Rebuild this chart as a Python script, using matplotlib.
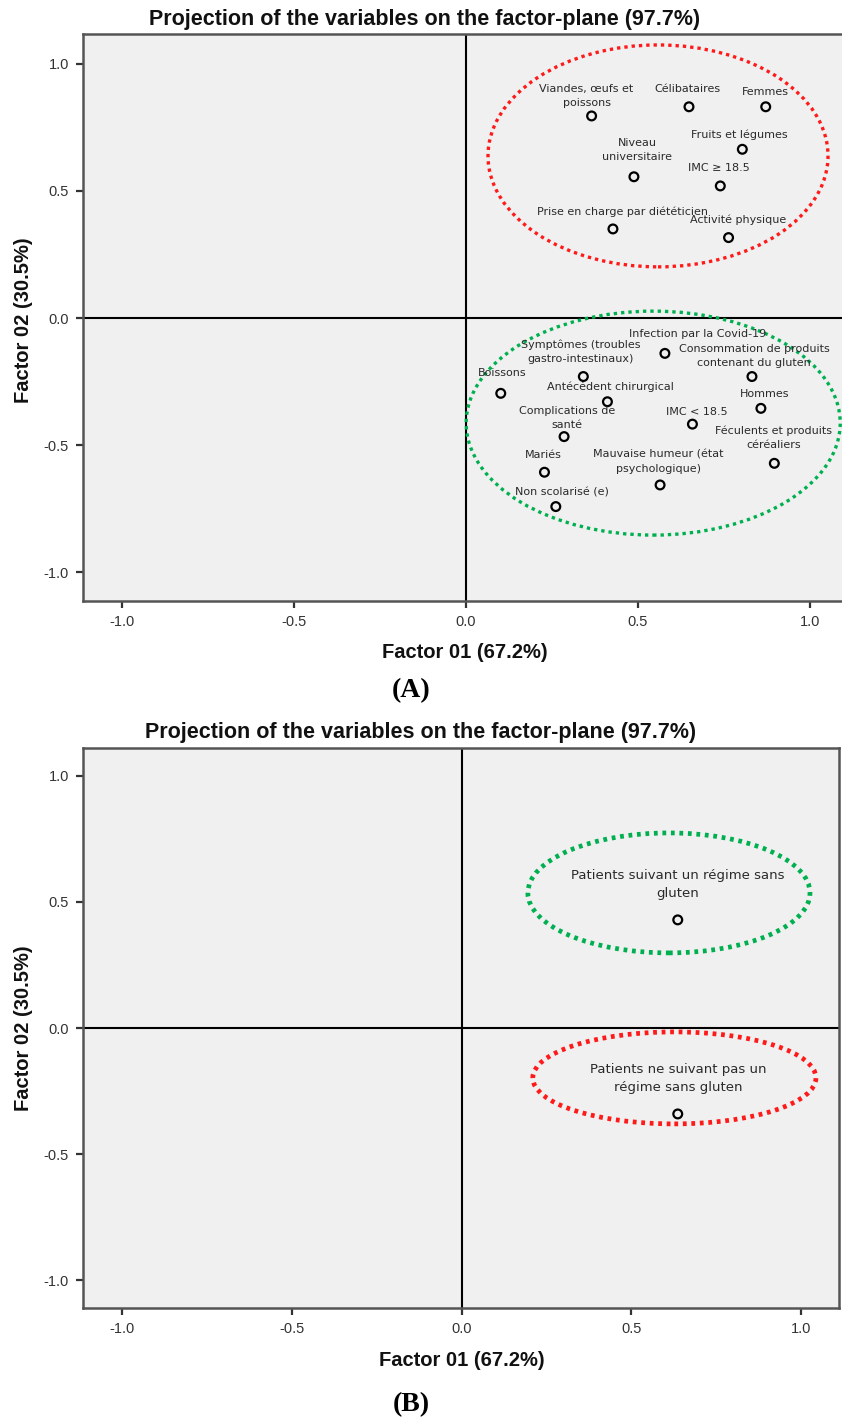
import matplotlib
matplotlib.use("Agg")
import matplotlib.pyplot as plt
from matplotlib.patches import Ellipse

# ---------------- data ----------------
title = "Projection of the variables on the factor-plane (97.7%)"
xlabel = "Factor 01 (67.2%)"
ylabel = "Factor 02 (30.5%)"
ticks = [-1.0, -0.5, 0.0, 0.5, 1.0]

# Panel A – upper group (red ellipse)
a_top_labels = ["Viandes, œufs et\npoissons", "Célibataires", "Femmes", "Fruits et légumes",
                "Niveau\nuniversitaire", "IMC ≥ 18.5", "Prise en charge par diététicien",
                "Activité physique"]
a_top_f1 = [0.365, 0.648, 0.871, 0.803, 0.488, 0.739, 0.427, 0.763]
a_top_f2 = [0.794, 0.830, 0.830, 0.663, 0.555, 0.519, 0.350, 0.316]

# Panel A – lower group (green ellipse)
a_bot_labels = ["Infection par la Covid-19", "Symptômes (troubles\ngastro-intestinaux)",
                "Consommation de produits\ncontenant du gluten", "Boissons", "Antécédent chirurgical",
                "Hommes", "IMC < 18.5", "Complications de\nsanté", "Féculents et produits\ncéréaliers",
                "Mariés", "Mauvaise humeur (état\npsychologique)", "Non scolarisé (e)"]
a_bot_f1 = [0.578, 0.341, 0.831, 0.101, 0.411, 0.857, 0.658, 0.285, 0.896, 0.228, 0.564, 0.261]
a_bot_f2 = [-0.139, -0.230, -0.230, -0.296, -0.329, -0.355, -0.417, -0.466, -0.571, -0.606, -0.656, -0.741]

# Panel B
b_labels = ["Patients suivant un régime sans\ngluten", "Patients ne suivant pas un\nrégime sans gluten"]
b_f1 = [0.637, 0.637]
b_f2 = [0.429, -0.341]

# ---------------- layout / style ----------------
W, H = 842, 1422
BG = "#f0f0f0"
RED = "#ff1a1a"
GREEN = "#00b050"

# label offsets in pixels (dx, dy) from the point
a_top_off = [(-5, 8), (-2, 13), (0, 10), (-3, 9), (3, 15), (-1, 13), (10, 12), (10, 13)]
a_bot_off = [(33, 14), (-3, 13), (2, 9), (1, 15), (3, 10), (4, 9), (4, 7), (3, 7), (-1, 13),
             (-1, 12), (-2, 11), (6, 9)]
b_off = [(0, 20), (0, 20)]

fig = plt.figure(figsize=(W / 100, H / 100), dpi=100)


def px_axes(left, top, right, bottom):
    return fig.add_axes([left / W, 1 - bottom / H, (right - left) / W, (bottom - top) / H])


def style_axes(ax, xlim, ylim):
    ax.set_facecolor(BG)
    ax.set_xlim(*xlim)
    ax.set_ylim(*ylim)
    ax.set_xticks(ticks)
    ax.set_yticks(ticks)
    ax.set_xticklabels([f"{t:.1f}" for t in ticks], family="Liberation Sans", fontsize=10.5, color="#333333")
    ax.set_yticklabels([f"{t:.1f}" for t in ticks], family="Liberation Sans", fontsize=10.5, color="#333333")
    ax.tick_params(direction="out", length=5, width=1.6, color="#333333", pad=5)
    for s in ax.spines.values():
        s.set_color("#555555")
        s.set_linewidth(1.8)
    ax.axhline(0, color="black", lw=1.5, zorder=1)
    ax.axvline(0, color="black", lw=1.5, zorder=1)


def plot_points(ax, xs, ys, labels, offs, fs, ls):
    ax.scatter(xs, ys, s=40, facecolors="none", edgecolors="black", linewidths=1.6, zorder=4)
    for x, y, lab, (dx, dy) in zip(xs, ys, labels, offs):
        ax.annotate(lab, (x, y), xytext=(dx, dy), textcoords="offset pixels",
                    ha="center", va="bottom", fontsize=fs, family="DejaVu Sans",
                    color="#2a2a2a", linespacing=ls, zorder=5)


# ---------- Panel A ----------
axA = px_axes(83, 34, 849, 601)
style_axes(axA, (-1.113, 1.113), (-1.112, 1.116))
plot_points(axA, a_top_f1, a_top_f2, a_top_labels, a_top_off, 8, 1.5)
plot_points(axA, a_bot_f1, a_bot_f2, a_bot_labels, a_bot_off, 8, 1.5)
axA.add_patch(Ellipse((0.558, 0.637), 0.988, 0.872, fill=False, edgecolor=RED,
                      lw=2.4, linestyle=(0, (1, 1.2)), zorder=3))
axA.add_patch(Ellipse((0.544, -0.413), 1.087, 0.880, fill=False, edgecolor=GREEN,
                      lw=2.4, linestyle=(0, (1, 1.2)), zorder=3))

# ---------- Panel B ----------
axB = px_axes(83, 748, 839, 1308)
style_axes(axB, (-1.115, 1.112), (-1.111, 1.111))
plot_points(axB, b_f1, b_f2, b_labels, b_off, 9.5, 1.45)
axB.add_patch(Ellipse((0.611, 0.536), 0.831, 0.476, fill=False, edgecolor=GREEN,
                      lw=3.4, linestyle=(0, (0.8, 1.0)), zorder=3))
axB.add_patch(Ellipse((0.627, -0.198), 0.834, 0.365, fill=False, edgecolor=RED,
                      lw=3.4, linestyle=(0, (0.8, 1.0)), zorder=3))

# ---------- titles and labels ----------
tkw = dict(family="Liberation Sans", fontweight="bold", color="#111111")
fig.text(425 / W, 1 - 19 / H, title, ha="center", va="center", fontsize=15.5, **tkw)
fig.text(421 / W, 1 - 733 / H, title, ha="center", va="center", fontsize=15.5, **tkw)
fig.text(465 / W, 1 - 653 / H, xlabel, ha="center", va="center", fontsize=14.5, **tkw)
fig.text(462 / W, 1 - 1360 / H, xlabel, ha="center", va="center", fontsize=14.5, **tkw)
fig.text(24 / W, 1 - 320 / H, ylabel, ha="center", va="center", rotation=90, fontsize=14.5, **tkw)
fig.text(24 / W, 1 - 1028 / H, ylabel, ha="center", va="center", rotation=90, fontsize=14.5, **tkw)
fig.text(411 / W, 1 - 691 / H, "(A)", ha="center", va="center", fontsize=20,
         family="Liberation Serif", fontweight="bold")
fig.text(411 / W, 1 - 1405 / H, "(B)", ha="center", va="center", fontsize=20,
         family="Liberation Serif", fontweight="bold")

fig.savefig("out.png", dpi=100, facecolor="white")
